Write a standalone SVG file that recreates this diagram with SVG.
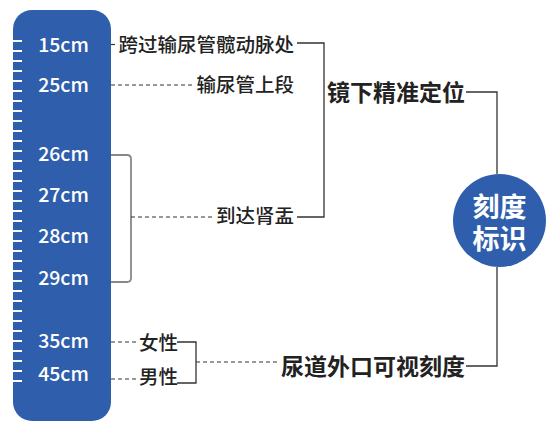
<svg xmlns="http://www.w3.org/2000/svg" width="554" height="431" viewBox="0 0 554 431">
<style>
.ruler{fill:#2F5FAC}
.tick{stroke:#fff;stroke-width:2}
.cm{font-family:"Noto Sans CJK SC","Noto Sans",sans-serif;font-size:19.5px;font-weight:500;fill:#fff;text-anchor:middle}
.lbl{font-family:"Noto Sans CJK SC",sans-serif;font-size:19.5px;font-weight:500;fill:#222}
.big{font-family:"Noto Sans CJK SC",sans-serif;font-size:23px;font-weight:700;fill:#222}
.ctr{font-family:"Noto Sans CJK SC",sans-serif;font-size:27px;font-weight:700;fill:#fff;text-anchor:middle}
.solid{fill:none;stroke:#333;stroke-width:1.3}
.dash{fill:none;stroke:#333;stroke-width:1.2;stroke-dasharray:4 3}
.brk{fill:none;stroke:#888;stroke-width:1.8}
</style>
<g id="ruler">
<rect class="ruler" x="13" y="10" width="98" height="411" rx="19"/>
<path class="tick" d="M12 41h10M12 51h10M12 61h10M12 71h10M12 81h10M12 91h10M12 101h10M12 111h10M12 121h10M12 131h10M12 141h10M12 151h10M12 161h10M12 171h10M12 181h10M12 191h10M12 201h10M12 211h10M12 221h10M12 231h10M12 241h10M12 251h10M12 261h10M12 271h10M12 281h10M12 291h10M12 301h10M12 311h10M12 321h10M12 331h10M12 341h10M12 351h10M12 361h10M12 371h10M12 381h10"/>
<text class="cm" x="63.5" y="52">15cm</text>
<text class="cm" x="63.5" y="92">25cm</text>
<text class="cm" x="63.5" y="161">26cm</text>
<text class="cm" x="63.5" y="202">27cm</text>
<text class="cm" x="63.5" y="243">28cm</text>
<text class="cm" x="63.5" y="285">29cm</text>
<text class="cm" x="63.5" y="348">35cm</text>
<text class="cm" x="63.5" y="381">45cm</text>
</g>
<g id="connectors">
<path class="dash" d="M111 44.5H117"/>
<path class="dash" d="M111 85H195"/>
<path class="brk" d="M111 155H127Q131 155 131 159V278Q131 282 127 282H111"/>
<path class="dash" d="M131 217H213"/>
<path class="solid" d="M297 43H324V217H297"/>
<path class="solid" d="M466 92H497V174"/>
<path class="solid" d="M497 267V366H466"/>
<path class="dash" d="M111 342H138"/>
<path class="dash" d="M111 379H138"/>
<path class="solid" d="M177 342H196V383H177"/>
<path class="dash" d="M196 362H277"/>
</g>
<g id="n-kuaguo"><text class="lbl" x="294" y="52" text-anchor="end">跨过输尿管髋动脉处</text></g>
<g id="n-shangduan"><text class="lbl" x="294" y="92" text-anchor="end">输尿管上段</text></g>
<g id="n-shenyu"><text class="lbl" x="294" y="223" text-anchor="end">到达肾盂</text></g>
<g id="n-nvxing"><text class="lbl" x="139" y="350">女性</text></g>
<g id="n-nanxing"><text class="lbl" x="139" y="384">男性</text></g>
<g id="n-jingxia"><text class="big" x="465" y="101" text-anchor="end">镜下精准定位</text></g>
<g id="n-niaodao"><text class="big" x="465" y="375" text-anchor="end">尿道外口可视刻度</text></g>
<g id="n-center">
<circle class="ruler" cx="499.5" cy="220.5" r="46.5"/>
<text class="ctr" x="499.5" y="216.5"><tspan x="499.5" y="216.5">刻度</tspan><tspan x="499.5" y="249">标识</tspan></text>
</g>
</svg>
